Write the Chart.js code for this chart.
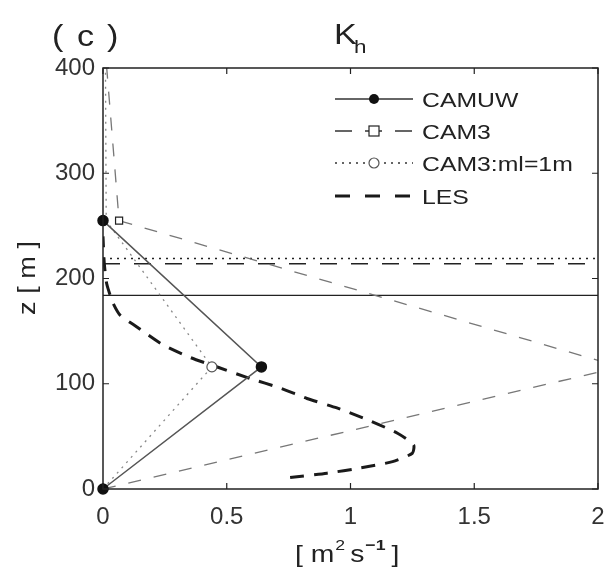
<!DOCTYPE html>
<html>
<head>
<meta charset="utf-8">
<script src="https://cdn.jsdelivr.net/npm/chart.js@4.4.1/dist/chart.umd.min.js"></script>
<style>
    body { margin: 0; background: #fff; }
</style>
</head>
<body>
<canvas id="khChart" width="606" height="567"></canvas>

<script>
    // Data
    const xTickValues = [0, 0.5, 1, 1.5, 2];
    const yTickValues = [0, 100, 200, 300, 400];

    const camuwK = [0, 0.64, 0];
    const camuwZ = [0, 116, 255];

    const cam3K = [0, 2.09, 0.065, 0.015];
    const cam3Z = [0, 116, 255, 400];

    const cam3mlK = [0, 0.44, 0.013, 0.01];
    const cam3mlZ = [0, 116, 255, 400];

    const lesK = [0.756, 0.905, 1.04, 1.17, 1.25, 1.255, 1.19, 1.067, 0.945, 0.824, 0.715, 0.594, 0.473, 0.352, 0.242, 0.137, 0.07, 0.04, 0.015, 0.005, 0];
    const lesZ = [11, 15, 20, 26, 34, 42, 53, 66, 77, 86, 96, 105, 115, 125, 137, 154, 165, 177, 195, 215, 240];

    // boundary layer heights (horizontal lines)
    const pblLabels = ["CAMUW", "CAM3", "CAM3:ml=1m"];
    const pblHeights = [184, 214, 219];

    const FONT = '"Liberation Sans", Arial, Helvetica, sans-serif';
    const STRETCH = 1.18; // the figure's lettering is wider than Arial

    function toPoints(xs, ys) {
        return xs.map((x, i) => ({ x: x, y: ys[i] }));
    }

    const xMin = xTickValues[0];
    const xMax = xTickValues[xTickValues.length - 1];

    const datasets = [
        {
            label: "CAMUW",
            data: toPoints(camuwK, camuwZ),
            borderColor: "#555",
            borderWidth: 1.5,
            pointStyle: "circle",
            pointRadius: 5,
            pointBackgroundColor: "#111",
            pointBorderColor: "#111",
            clip: false
        },
        {
            label: "CAM3",
            data: toPoints(cam3K, cam3Z),
            borderColor: "#777",
            borderWidth: 1.3,
            borderDash: [13, 13],
            pointStyle: "rect",
            pointRadius: [5, 5, 5, 0],
            pointBackgroundColor: "#fff",
            pointBorderColor: "#222",
            pointBorderWidth: 1.2
        },
        {
            label: "CAM3:ml=1m",
            data: toPoints(cam3mlK, cam3mlZ),
            borderColor: "#888",
            borderWidth: 1.3,
            borderDash: [2, 5],
            pointStyle: "circle",
            pointRadius: [0, 5, 0, 0],
            pointBackgroundColor: "#fff",
            pointBorderColor: "#555",
            pointBorderWidth: 1.2
        },
        {
            label: "LES",
            data: toPoints(lesK, lesZ),
            borderColor: "#1a1a1a",
            borderWidth: 3,
            borderDash: [14, 10],
            pointRadius: 0,
            tension: 0.2
        },
        // horizontal PBL height lines
        {
            label: pblLabels[0] + " h",
            data: [{ x: xMin, y: pblHeights[0] }, { x: xMax, y: pblHeights[0] }],
            borderColor: "#222",
            borderWidth: 1.3,
            pointRadius: 0
        },
        {
            label: pblLabels[1] + " h",
            data: [{ x: xMin, y: pblHeights[1] }, { x: xMax, y: pblHeights[1] }],
            borderColor: "#222",
            borderWidth: 1.6,
            borderDash: [17, 14],
            pointRadius: 0
        },
        {
            label: pblLabels[2] + " h",
            data: [{ x: xMin, y: pblHeights[2] }, { x: xMax, y: pblHeights[2] }],
            borderColor: "#222",
            borderWidth: 1.5,
            borderDash: [2, 5],
            pointRadius: 0
        }
    ];

    // text drawn a bit wider than the font, returns advanced width
    function wideText(ctx, text, x, y, size, opts) {
        opts = opts || {};
        ctx.save();
        ctx.font = (opts.bold ? "bold " : "") + size + "px " + FONT;
        ctx.translate(x, y);
        ctx.scale(STRETCH, 1);
        ctx.fillText(text, 0, 0);
        const w = ctx.measureText(text).width * STRETCH;
        ctx.restore();
        return w;
    }

    // Frame with inward ticks on all four sides
    const framePlugin = {
        id: "frame",
        afterDatasetsDraw(chart) {
            const { ctx, chartArea: a, scales } = chart;
            ctx.save();
            ctx.strokeStyle = "#222";
            ctx.lineWidth = 1.5;
            ctx.setLineDash([]);
            ctx.strokeRect(a.left, a.top, a.right - a.left, a.bottom - a.top);
            ctx.lineWidth = 1.2;
            const len = 6;
            xTickValues.forEach(v => {
                const px = scales.x.getPixelForValue(v);
                ctx.beginPath();
                ctx.moveTo(px, a.bottom); ctx.lineTo(px, a.bottom - len);
                ctx.moveTo(px, a.top); ctx.lineTo(px, a.top + len);
                ctx.stroke();
            });
            yTickValues.forEach(v => {
                const py = scales.y.getPixelForValue(v);
                ctx.beginPath();
                ctx.moveTo(a.left, py); ctx.lineTo(a.left + len, py);
                ctx.moveTo(a.right, py); ctx.lineTo(a.right - len, py);
                ctx.stroke();
            });
            ctx.restore();
        }
    };

    // Legend: line sample with marker in the middle
    const legendPlugin = {
        id: "sampleLegend",
        afterDraw(chart) {
            const ctx = chart.ctx;
            const x0 = 335, x1 = 413, xm = 374, tx = 422;
            const rows = [99, 131, 163, 196];
            ctx.save();
            for (let i = 0; i < 4; i++) {
                const ds = chart.data.datasets[i];
                const y = rows[i];
                ctx.strokeStyle = i === 3 ? "#1a1a1a" : "#333";
                ctx.lineWidth = ds.borderWidth;
                ctx.setLineDash(i === 1 ? [17, 13] : i === 3 ? [15, 15] : (ds.borderDash || []));
                ctx.beginPath();
                ctx.moveTo(x0, y); ctx.lineTo(x1, y);
                ctx.stroke();
                ctx.setLineDash([]);
                ctx.lineWidth = 1.2;
                if (i === 0) {
                    ctx.fillStyle = "#111";
                    ctx.beginPath(); ctx.arc(xm, y, 5, 0, Math.PI * 2); ctx.fill();
                } else if (i === 1) {
                    ctx.fillStyle = "#fff"; ctx.strokeStyle = "#222";
                    ctx.fillRect(xm - 5, y - 5, 10, 10);
                    ctx.strokeRect(xm - 5, y - 5, 10, 10);
                } else if (i === 2) {
                    ctx.fillStyle = "#fff"; ctx.strokeStyle = "#555";
                    ctx.beginPath(); ctx.arc(xm, y, 5, 0, Math.PI * 2); ctx.fill(); ctx.stroke();
                }
                ctx.fillStyle = "#222";
                ctx.textBaseline = "alphabetic";
                ctx.textAlign = "left";
                wideText(ctx, ds.label, tx, y + 8, 21);
            }
            ctx.restore();
        }
    };

    // Panel letter, title and axis titles
    const textPlugin = {
        id: "labels",
        afterDraw(chart) {
            const ctx = chart.ctx;
            ctx.save();
            ctx.fillStyle = "#222";
            ctx.textBaseline = "alphabetic";
            ctx.textAlign = "left";

            // panel letter
            wideText(ctx, "(", 52, 46, 29);
            wideText(ctx, "c", 77, 46, 29);
            wideText(ctx, ")", 107, 46, 29);

            // title K_h
            wideText(ctx, "K", 334, 44, 29);
            wideText(ctx, "h", 354, 53, 19);

            // x axis title [ m^2 s^-1 ]
            let x = 295;
            const yb = 562;
            x += wideText(ctx, "[ m", x, yb, 24);
            x += wideText(ctx, "2", x + 1, yb - 12, 15) + 6;
            x += wideText(ctx, "s", x, yb, 24) + 1;
            x += wideText(ctx, "\u22121", x, yb - 12, 15, { bold: true }) + 6;
            wideText(ctx, "]", x, yb, 24);

            // y axis title
            ctx.translate(35, 278);
            ctx.rotate(-Math.PI / 2);
            ctx.font = "23px " + FONT;
            const w = ctx.measureText("z [ m ]").width * STRETCH;
            wideText(ctx, "z [ m ]", -w / 2, 0, 23);
            ctx.restore();
        }
    };

    new Chart(document.getElementById("khChart"), {
        type: "scatter",
        data: { datasets: datasets.map(d => Object.assign({ showLine: true, fill: false }, d)) },
        options: {
            responsive: false,
            animation: false,
            layout: { padding: { top: 68, right: 8, left: 0, bottom: 0 } },
            plugins: {
                legend: { display: false },
                tooltip: { enabled: false }
            },
            scales: {
                x: {
                    type: "linear",
                    min: xMin,
                    max: xMax,
                    afterBuildTicks: s => { s.ticks = xTickValues.map(v => ({ value: v })); },
                    ticks: {
                        font: { size: 24, family: FONT }, color: "#333", padding: 14,
                        maxRotation: 0, autoSkip: false,
                        callback: v => String(v)
                    },
                    grid: { display: false, drawTicks: false },
                    border: { display: false },
                    afterFit: s => { s.height = 78; s.paddingLeft = 0; s.paddingRight = 0; }
                },
                y: {
                    type: "linear",
                    min: yTickValues[0],
                    max: yTickValues[yTickValues.length - 1],
                    afterBuildTicks: s => { s.ticks = yTickValues.map(v => ({ value: v })); },
                    ticks: {
                        font: { size: 24, family: FONT }, color: "#333", padding: 8,
                        autoSkip: false, callback: v => String(v)
                    },
                    grid: { display: false, drawTicks: false },
                    border: { display: false },
                    afterFit: s => { s.width = 103; s.paddingTop = 0; s.paddingBottom = 0; }
                }
            }
        },
        plugins: [framePlugin, legendPlugin, textPlugin]
    });
</script>
</body>
</html>
